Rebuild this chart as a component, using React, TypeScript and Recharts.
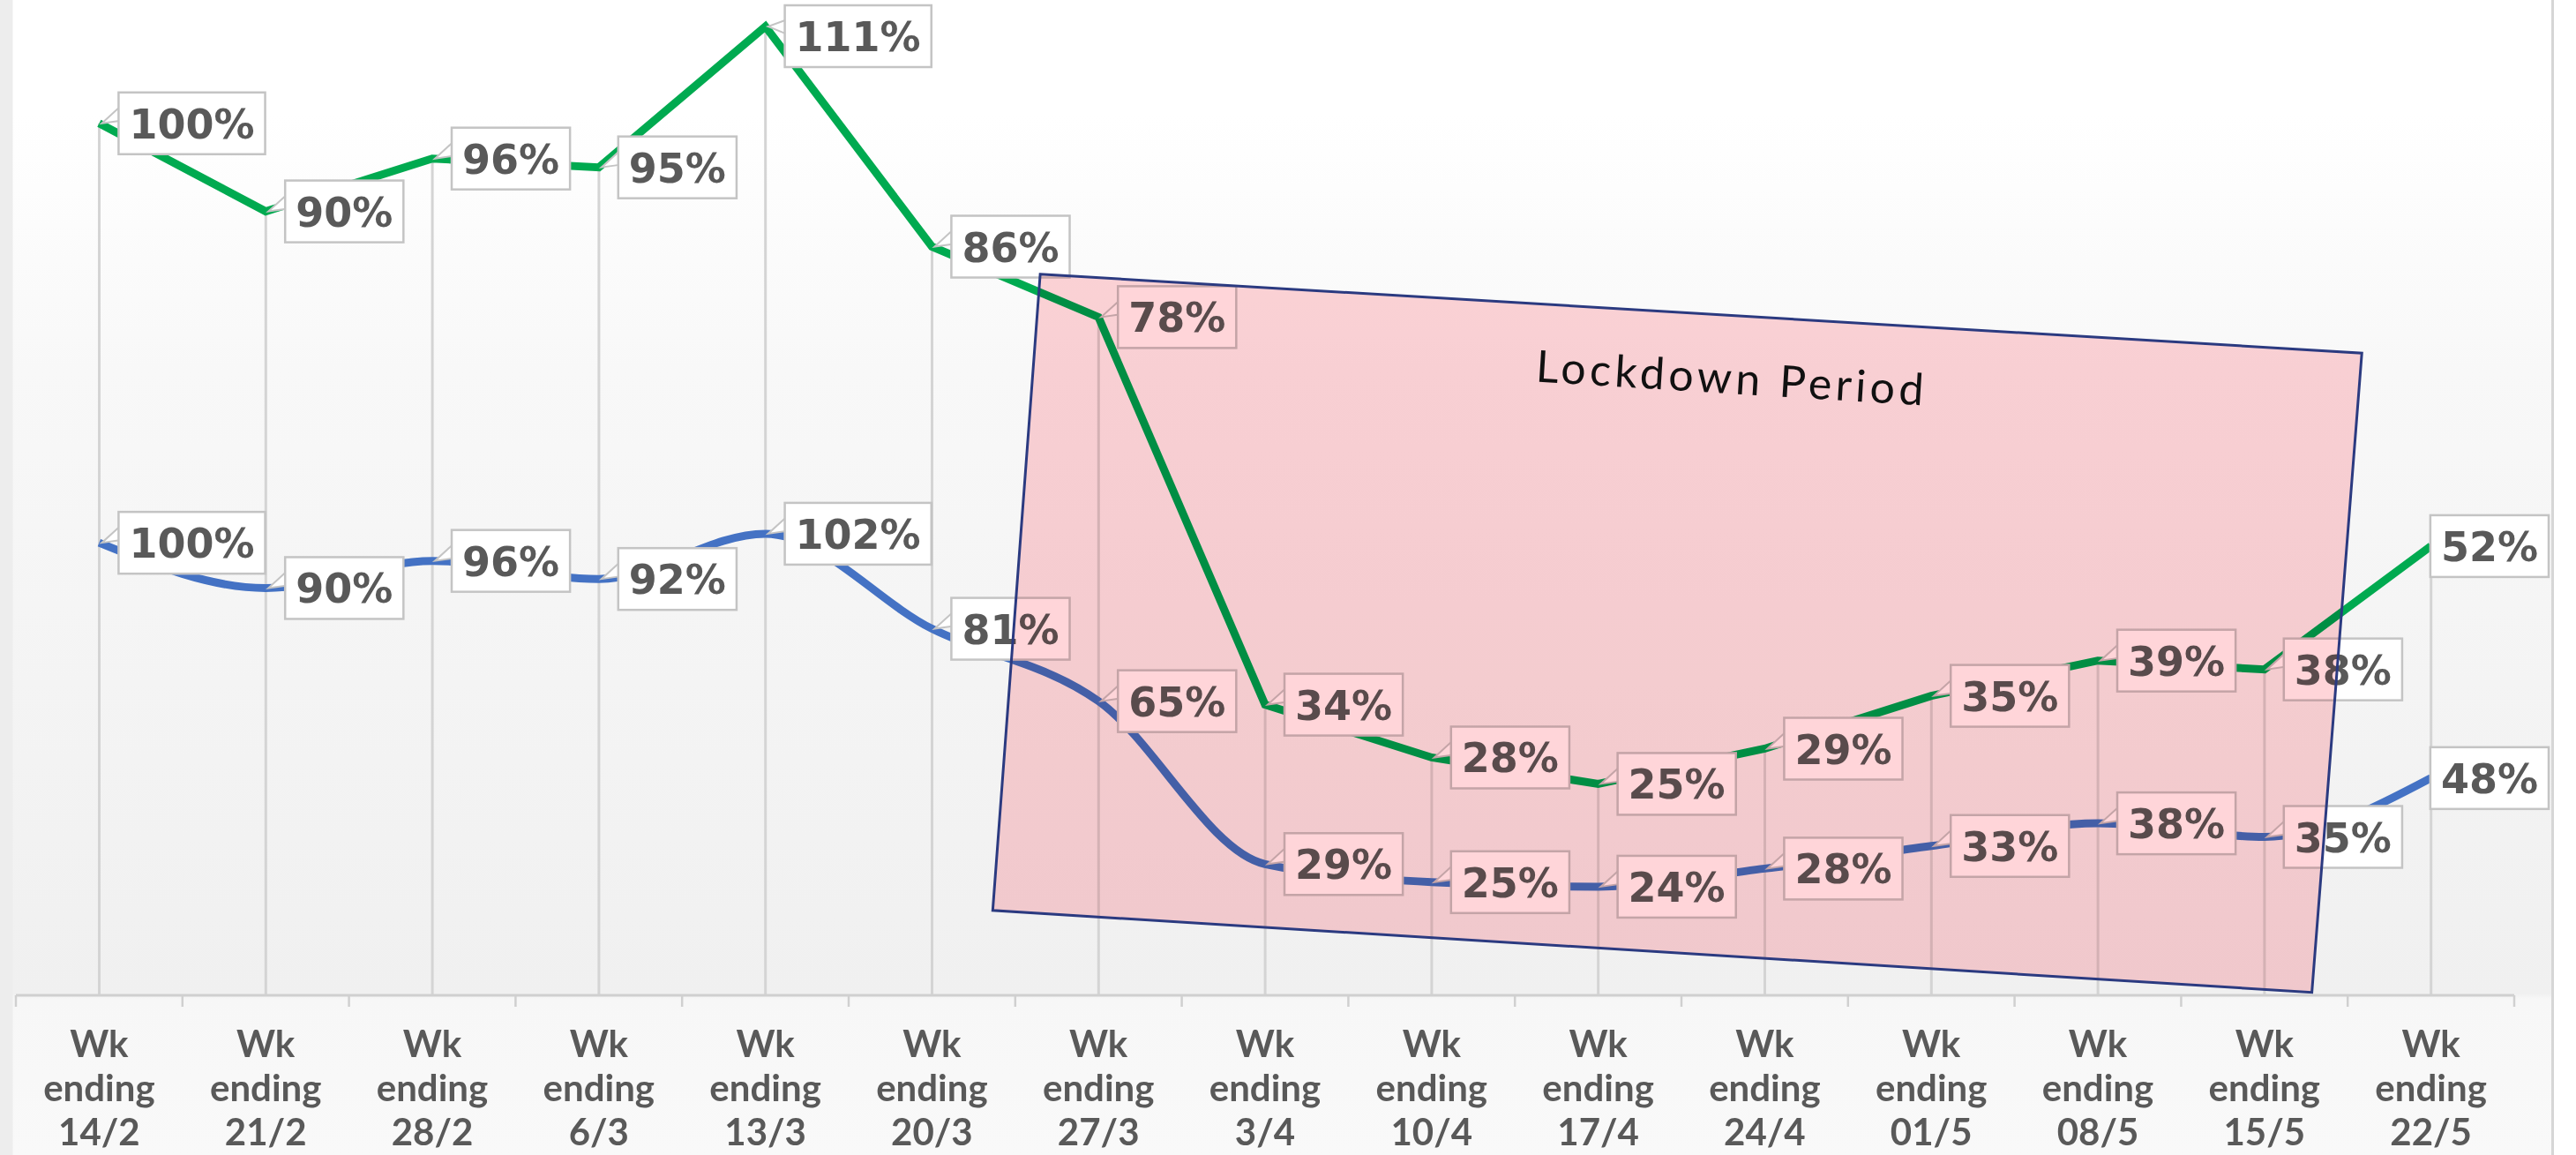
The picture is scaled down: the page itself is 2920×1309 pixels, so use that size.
import {
  ComposedChart,
  Bar,
  Line,
  XAxis,
  YAxis,
  LabelList,
  ReferenceArea,
} from "recharts";

// week-ending dates on the category axis
const weeks = ["14/2", "21/2", "28/2", "6/3", "13/3", "20/3", "27/3", "3/4", "10/4", "17/4", "24/4", "01/5", "08/5", "15/5", "22/5"];
// upper (green) series, % of baseline
const greenPct = [100, 90, 96, 95, 111, 86, 78, 34, 28, 25, 29, 35, 39, 38, 52];
// lower (blue) series, % of baseline
const bluePct = [100, 90, 96, 92, 102, 81, 65, 29, 25, 24, 28, 33, 38, 35, 48];

const blueDomain = [0, 218];
const greenDomain = [1, 113];

const W = 2895;
const H = 1309;
const MARGIN = { top: 10, right: 45, bottom: 0, left: 18 };
const BAND = (W - MARGIN.left - MARGIN.right) / weeks.length;

const LABEL_SIZE = 46;
const GREY_TEXT = "#595959";

const data = weeks.map((w, i) => ({ week: w, green: greenPct[i], blue: bluePct[i] }));

function labelWidth(s: string) {
  let em = 0;
  for (const c of s) em += c === "%" ? 1.002 : 0.696;
  return em * LABEL_SIZE;
}

// Excel style callout data label, sits to the right of the point
function Callout(props: any) {
  const { x, y, value } = props;
  if (x == null || y == null) return null;
  const txt = `${value}%`;
  const w = labelWidth(txt) + 24;
  const h = 70;
  let bx = x + 22;
  if (bx + w > W - 6) bx = W - 6 - w;
  let by = y - h / 2;
  if (by < 6) by = 6;
  return (
    <g>
      <path
        d={`M${bx + 1},${by + h * 0.24} L${x + 3},${y} L${bx + 1},${by + h * 0.46}`}
        fill="#ffffff"
        stroke="#c4c4c4"
        strokeWidth={2}
      />
      <rect x={bx} y={by} width={w} height={h} fill="#ffffff" stroke="#c4c4c4" strokeWidth={2.5} />
      <text
        x={bx + w / 2}
        y={by + h / 2 + 17}
        textAnchor="middle"
        fontFamily="DejaVu Sans"
        fontWeight="bold"
        fontSize={LABEL_SIZE}
        fill={GREY_TEXT}
      >
        {txt}
      </text>
    </g>
  );
}

function WeekTick(props: any) {
  const { x, y, payload, index } = props;
  const half = BAND / 2;
  return (
    <g>
      <line x1={x - half} x2={x - half} y1={y} y2={y + 13} stroke="#d0d0d0" strokeWidth={2.5} />
      {index === weeks.length - 1 && (
        <line x1={x + half} x2={x + half} y1={y} y2={y + 13} stroke="#d0d0d0" strokeWidth={2.5} />
      )}
      <text textAnchor="middle" fontFamily="Lato" fontWeight={700} fontSize={42} fill={GREY_TEXT}>
        <tspan x={x} y={y + 70}>Wk</tspan>
        <tspan x={x} y={y + 120}>ending</tspan>
        <tspan x={x} y={y + 170}>{payload.value}</tspan>
      </text>
    </g>
  );
}

// tilted "Lockdown Period" box, corners given as fractions of the plot area
function LockdownShape(props: any) {
  const { x, y, width, height } = props;
  const pt = (fx: number, fy: number) => `${x + fx * width},${y + fy * height}`;
  const pts = [pt(0.41, 0.269), pt(0.939, 0.349), pt(0.919, 0.997), pt(0.391, 0.914)].join(" ");
  const tx = x + 0.6857 * width;
  const ty = y + 0.39 * height;
  return (
    <g>
      <polygon points={pts} fill="#ffd5d9" style={{ mixBlendMode: "multiply" }} />
      <polygon points={pts} fill="none" stroke="#2b3a80" strokeWidth={3} />
      <text
        x={tx}
        y={ty}
        textAnchor="middle"
        fontFamily="Lato"
        fontSize={50}
        fill="#111111"
        textLength={440}
        transform={`rotate(3.5 ${tx} ${ty})`}
      >
        Lockdown Period
      </text>
    </g>
  );
}

export default function App() {
  return (
    <div
      style={{
        position: "absolute",
        left: 0,
        top: 0,
        width: 2920,
        height: H,
        background: "#ffffff",
      }}
    >
      <div
        style={{
          width: W,
          height: H,
          boxSizing: "border-box",
          borderRight: "3px solid #d6d6d6",
          background:
            "linear-gradient(to right, #ededed 0px, #ededed 14px, rgba(255,255,255,0) 15px), linear-gradient(to bottom, #ffffff 0px, #ffffff 130px, #f8f8f8 420px, #f0f0f0 1126px, #f7f7f7 1132px, #f9f9f9 1309px)",
        }}
      >
        <ComposedChart width={W} height={H} data={data} margin={MARGIN}>
          <XAxis
            dataKey="week"
            height={H - 1128}
            tickSize={0}
            tickMargin={0}
            interval={0}
            axisLine={{ stroke: "#d0d0d0", strokeWidth: 3 }}
            tickLine={false}
            tick={<WeekTick />}
          />
          <YAxis yAxisId="blue" hide domain={blueDomain} />
          <YAxis yAxisId="green" hide orientation="right" domain={greenDomain} allowDataOverflow />
          {/* drop lines from the top series down to the axis */}
          <Bar dataKey="green" yAxisId="green" barSize={3} fill="#d4d4d4" isAnimationActive={false} />
          <Line
            dataKey="blue"
            yAxisId="blue"
            type="monotone"
            stroke="#4472c4"
            strokeWidth={9}
            dot={false}
            activeDot={false}
            isAnimationActive={false}
          >
            <LabelList dataKey="blue" content={<Callout />} />
          </Line>
          <Line
            dataKey="green"
            yAxisId="green"
            type="linear"
            stroke="#00aa50"
            strokeWidth={9}
            dot={false}
            activeDot={false}
            isAnimationActive={false}
          >
            <LabelList dataKey="green" content={<Callout />} />
          </Line>
          <ReferenceArea
            yAxisId="blue"
            y1={blueDomain[0]}
            y2={blueDomain[1]}
            shape={<LockdownShape />}
            zIndex={3000}
          />
        </ComposedChart>
      </div>
    </div>
  );
}
